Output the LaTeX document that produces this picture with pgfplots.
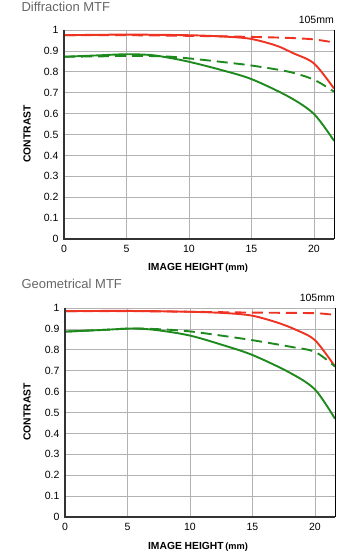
\documentclass[border=0pt]{standalone}
\usepackage{fontspec}
\setmainfont{Liberation Sans}
\usepackage{pgfplots}
\pgfplotsset{compat=1.18}
\definecolor{mtfred}{HTML}{EE3322}
\definecolor{mtfgreen}{HTML}{1E8A1E}
\definecolor{titlegray}{HTML}{666666}
\pgfplotsset{
  mtf/.style={
    scale only axis, width=270pt, height=209pt,
    xmin=0, xmax=21.6, ymin=0, ymax=1,
    xtick={0,5,10,15,20}, ytick={0,0.1,...,1.0},
    yticklabels={0,0.1,0.2,0.3,0.4,0.5,0.6,0.7,0.8,0.9,1},
    grid=major, grid style={gray!60, line width=0.6pt},
    major tick length=0pt,
    axis line style={draw=none},
    tick label style={font=\fontsize{10.5}{12}\selectfont},
    /pgf/number format/assume math mode=true,
    xticklabel style={yshift=-3pt},
    yticklabel style={xshift=-2pt},
    clip=false,
  },
  rs/.style={mtfred, line width=1.9pt, smooth},
  rd/.style={mtfred, line width=1.9pt, smooth, dash pattern=on 11pt off 6pt},
  gs/.style={mtfgreen, line width=1.9pt, smooth},
  gd/.style={mtfgreen, line width=1.9pt, smooth, dash pattern=on 11pt off 6pt},
}
\begin{document}
\begin{tikzpicture}
\path[use as bounding box] (0,0) rectangle (352pt,555pt);
% titles
\node[anchor=west, text=titlegray, font=\fontsize{13}{15}\selectfont] at (18pt,548pt) {Diffraction MTF};
\node[anchor=west, text=titlegray, font=\fontsize{13}{15}\selectfont] at (18pt,271pt) {Geometrical MTF};
% top axis
\begin{axis}[mtf, at={(64pt,316pt)}, anchor=south west]
\addplot[rd] coordinates {(0,0.975) (5,0.975) (10,0.972) (15,0.967) (18,0.962) (20,0.955) (21.6,0.94)};
\addplot[rs] coordinates {(0,0.975) (5,0.978) (10,0.975) (13,0.968) (15,0.957) (17,0.925) (18.3,0.89) (20,0.84) (21.6,0.72)};
\addplot[gd] coordinates {(0,0.872) (3,0.874) (5,0.876) (8,0.874) (10,0.864) (12.5,0.848) (15,0.83) (18,0.80) (20,0.762) (21.6,0.705)};
\addplot[gs] coordinates {(0,0.872) (2.5,0.878) (5,0.884) (7,0.88) (8.5,0.866) (10,0.848) (12.5,0.81) (15,0.765) (18,0.68) (20,0.598) (21.6,0.47)};
\draw[black!80, line width=1.5pt] (rel axis cs:0,1) -- (rel axis cs:0,0) -- (rel axis cs:1,0);
\draw[black, line width=0.8pt] (rel axis cs:1,0) -- (rel axis cs:1,1);
\node[anchor=south east, font=\fontsize{10.5}{12}\selectfont, inner sep=0pt] at ([yshift=6pt]rel axis cs:1,1) {105mm};
\end{axis}
\node[font=\bfseries\fontsize{10.3}{12}\selectfont] at (198pt,287pt) {IMAGE HEIGHT\,{\fontsize{9.2}{11}\selectfont(mm)}};
\node[rotate=90, font=\bfseries\fontsize{10.3}{12}\selectfont] at (27pt,421pt) {CONTRAST};
% bottom axis
\begin{axis}[mtf, at={(65pt,38pt)}, anchor=south west]
\addplot[rd] coordinates {(0,0.985) (5,0.985) (10,0.982) (15,0.978) (20,0.975) (21.6,0.966)};
\addplot[rs] coordinates {(0,0.985) (5,0.986) (10,0.982) (13,0.975) (15,0.963) (17,0.93) (18.5,0.895) (20,0.846) (21.6,0.72)};
\addplot[gd] coordinates {(0,0.887) (3,0.895) (5.5,0.902) (8,0.897) (10,0.888) (12.5,0.868) (15,0.846) (18,0.815) (20,0.79) (21.6,0.72)};
\addplot[gs] coordinates {(0,0.887) (3,0.895) (5.5,0.902) (7.5,0.893) (10,0.868) (12.5,0.825) (15,0.775) (18,0.69) (20,0.61) (21.6,0.47)};
\draw[black!80, line width=1.5pt] (rel axis cs:0,1) -- (rel axis cs:0,0) -- (rel axis cs:1,0);
\draw[black, line width=0.8pt] (rel axis cs:1,0) -- (rel axis cs:1,1);
\node[anchor=south east, font=\fontsize{10.5}{12}\selectfont, inner sep=0pt] at ([yshift=6pt]rel axis cs:1,1) {105mm};
\end{axis}
\node[font=\bfseries\fontsize{10.3}{12}\selectfont] at (198pt,8pt) {IMAGE HEIGHT\,{\fontsize{9.2}{11}\selectfont(mm)}};
\node[rotate=90, font=\bfseries\fontsize{10.3}{12}\selectfont] at (27pt,143pt) {CONTRAST};
\end{tikzpicture}
\end{document}
